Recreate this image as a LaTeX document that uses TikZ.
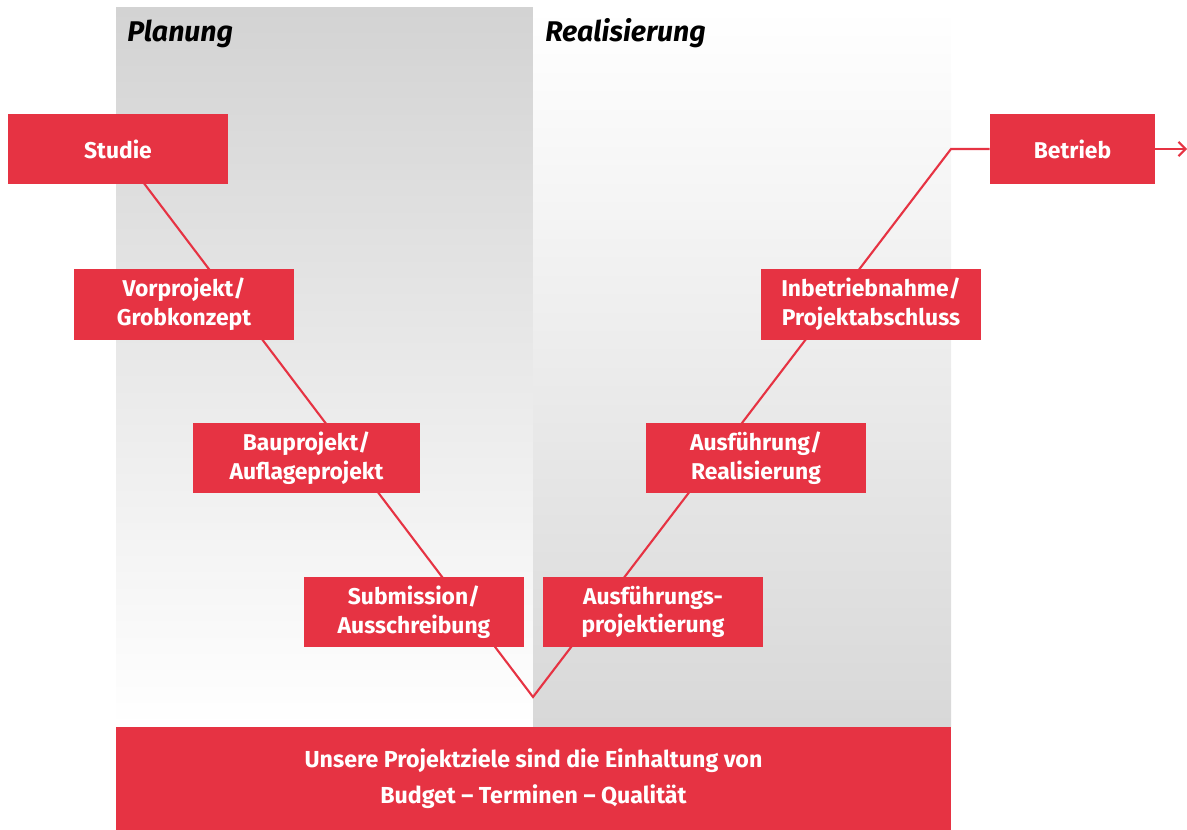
\documentclass[tikz,border=0pt]{standalone}
\usepackage{fontspec}
\setmainfont{Fira Sans}
\usetikzlibrary{arrows.meta,backgrounds}
\definecolor{vred}{HTML}{E63343}
\definecolor{pgray}{HTML}{D3D3D3}
\definecolor{rgray}{HTML}{D8D8D8}
\tikzset{
  phase/.style={fill=vred, text=white, font=\bfseries\fontsize{13}{16.4}\selectfont, align=center, inner sep=0pt},
  heading/.style={font=\bfseries\itshape\fontsize{16.2}{18}\selectfont, anchor=base west, inner sep=0pt},
  vline/.style={draw=vred, line width=1.2pt, line join=miter},
}
\begin{document}
\begin{tikzpicture}[x=0.02cm, y=-0.02cm]
\useasboundingbox (0,0) rectangle (1187,830);
% phase boxes
\node[phase, minimum width=220*0.02cm, minimum height=70*0.02cm] (studie) at (118,149) {Studie};
\node[phase, minimum width=220*0.02cm, minimum height=71*0.02cm] (vor) at (184,304.5) {Vorprojekt/\\Grobkonzept};
\node[phase, minimum width=227*0.02cm, minimum height=70*0.02cm] (bau) at (306.5,458) {Bauprojekt/\\Auflageprojekt};
\node[phase, minimum width=220*0.02cm, minimum height=70*0.02cm] (sub) at (414,612) {Submission/\\Ausschreibung};
\node[phase, minimum width=220*0.02cm, minimum height=70*0.02cm] (ausp) at (653,612) {Ausführungs-\\projektierung};
\node[phase, minimum width=220*0.02cm, minimum height=70*0.02cm] (ausf) at (756,458) {Ausführung/\\Realisierung};
\node[phase, minimum width=220*0.02cm, minimum height=71*0.02cm] (inb) at (871,304.5) {Inbetriebnahme/\\Projektabschluss};
\node[phase, minimum width=165*0.02cm, minimum height=70*0.02cm] (betrieb) at (1072.5,149) {Betrieb};
% bottom bar
\node[phase, minimum width=835*0.02cm, minimum height=103*0.02cm, font=\bfseries\fontsize{13.2}{20.4}\selectfont] (ziel) at (533.5,778.5) {Unsere Projektziele sind die Einhaltung von\\Budget – Terminen – Qualität};
% headings
\node[heading] (planung) at (127,42) {Planung};
\node[heading] (real) at (545,42) {Realisierung};
\coordinate (vb) at (533,697);
\coordinate (corner) at (951,149);
\coordinate (out) at (1187,149);
\begin{scope}[on background layer]
  \shade[top color=pgray, bottom color=white] (116,8) rectangle (533,727);
  \shade[top color=white, bottom color=rgray] (533,8) rectangle (951,727);
  \draw[vline] (studie.center) -- (vb) -- (corner) -- (betrieb.west);
\end{scope}
\draw[vline, -{Straight Barb[length=4pt,width=8pt]}] (betrieb.east) -- (out);
\end{tikzpicture}
\end{document}
